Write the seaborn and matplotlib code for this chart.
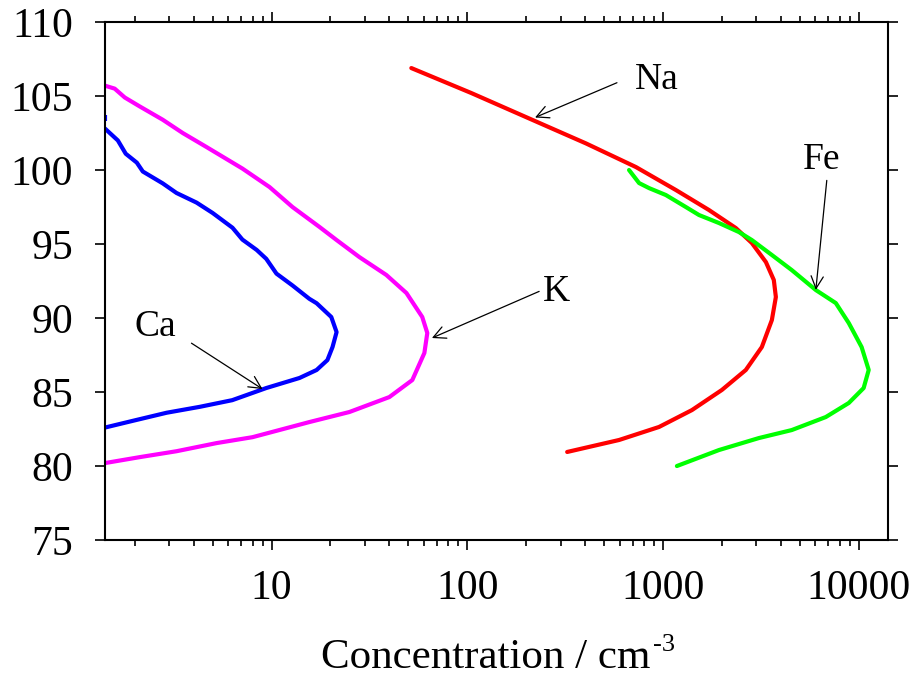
import numpy as np
import pandas as pd
import seaborn as sns
import matplotlib.pyplot as plt
from matplotlib.ticker import LogLocator, FixedLocator, NullFormatter, FixedFormatter

# profiles: concentration (cm^-3) vs altitude (km)
ca_conc = [1.41, 1.64, 1.80, 2.05, 2.20, 2.78, 3.27, 4.14, 5.0, 6.32, 7.1, 8.4, 9.4, 10.6, 12.8,
           15.6, 17.0, 20.2, 21.5, 20.5, 19.3, 17.0, 13.9, 9.4, 6.3, 4.3, 2.91, 1.95, 1.41]
ca_alt = [102.8, 102.0, 101.1, 100.5, 99.9, 99.1, 98.45, 97.8, 97.1, 96.1, 95.3, 94.6, 94.0, 93.0, 92.2,
          91.3, 91.0, 90.07, 89.05, 88.04, 87.16, 86.49, 85.95, 85.27, 84.45, 84.0, 83.6, 83.05, 82.6]

k_conc = [1.41, 1.58, 1.78, 2.12, 2.78, 3.52, 4.66, 7.1, 9.77, 12.8, 17.6, 21.5, 28.1, 38.6, 48.9, 58.9,
          62.5, 60.4, 52.4, 40.0, 25.0, 15.6, 8.0, 5.24, 3.27, 2.12, 1.41]
k_alt = [105.7, 105.5, 104.9, 104.3, 103.4, 102.5, 101.55, 100.1, 98.85, 97.5, 96.15, 95.27, 94.12, 92.91, 91.69, 90.07,
         88.99, 87.64, 85.81, 84.66, 83.65, 82.97, 81.95, 81.55, 81.0, 80.6, 80.2]

na_conc = [51.8, 105, 247, 404, 728, 1164, 1717, 2357, 2845, 3357, 3684, 3774, 3600, 3200, 2650, 2000,
           1406, 955, 597, 324]
na_alt = [106.89, 105.2, 103.04, 101.8, 100.2, 98.65, 97.30, 96.08, 95.07, 93.78, 92.57, 91.42, 89.86, 88.04, 86.49, 85.14,
          83.78, 82.64, 81.76, 80.95]

fe_conc = [671, 755, 849, 1035, 1309, 1528, 1932, 2444, 2845, 3600, 4550, 6040, 7640, 8900, 10350, 11250,
           10600, 8900, 6790, 4550, 3090, 1932, 1178]
fe_alt = [100.0, 99.12, 98.78, 98.31, 97.50, 96.96, 96.42, 95.81, 95.27, 94.26, 93.24, 91.89, 91.01, 89.66, 88.04, 86.49,
          85.27, 84.26, 83.31, 82.43, 81.89, 81.08, 80.0]

# short blue stub at the left edge above the Ca profile
ca_stub_conc = [1.41, 1.41]
ca_stub_alt = [103.3, 103.7]

species = ["Ca", "K", "Na", "Fe"]
colors = {"Ca": "#0000ff", "K": "#ff00ff", "Na": "#ff0000", "Fe": "#00ff00"}

# label position, arrow tail, arrow head
labels = {
    "Na": ((931, 106.1), (582, 105.9), (222, 103.55)),
    "Fe": ((6470, 100.7), (6870, 99.3), (6040, 91.9)),
    "K": ((285, 91.8), (233, 91.8), (66, 88.65)),
    "Ca": ((2.55, 89.4), (3.9, 88.3), (9.0, 85.2)),
}

frames = []
for name, c, a in [("Ca", ca_conc, ca_alt), ("K", k_conc, k_alt), ("Na", na_conc, na_alt), ("Fe", fe_conc, fe_alt)]:
    frames.append(pd.DataFrame({"conc": c, "alt": a, "species": name}))
df = pd.concat(frames, ignore_index=True)

sns.set_style("ticks")
plt.rcParams['font.family'] = ['Liberation Serif', 'DejaVu Serif']
plt.rcParams['text.color'] = 'black'

fig = plt.figure(figsize=(9.17, 6.78), dpi=100)
ax = fig.add_axes([0.1145, 0.2035, 0.8535, 0.764])

sns.lineplot(data=df, x="conc", y="alt", hue="species", palette=colors, sort=False,
             estimator=None, lw=3, legend=False, ax=ax)
for line in ax.get_lines():
    line.set_solid_joinstyle("round")
    line.set_solid_capstyle("round")
ax.plot(ca_stub_conc, ca_stub_alt, color=colors["Ca"], lw=3, solid_capstyle="butt")

ax.set_xscale("log")
ax.set_xlim(1.41, 14060)
ax.set_ylim(75, 110)

ax.xaxis.set_major_locator(FixedLocator([10, 100, 1000, 10000]))
ax.xaxis.set_major_formatter(FixedFormatter(["10", "100", "1000", "10000"]))
ax.xaxis.set_minor_locator(LogLocator(base=10, subs=np.arange(2, 10)))
ax.xaxis.set_minor_formatter(NullFormatter())
ax.set_yticks(np.arange(75, 111, 5))

ax.tick_params(which="both", direction="out", top=True, right=True, labelright=False,
               labeltop=False, width=1.2, color="black", labelsize=30, labelcolor="black")
ax.tick_params(which="major", length=7)
ax.tick_params(which="minor", length=4.5)
ax.tick_params(axis="x", pad=14)
ax.tick_params(axis="y", pad=16)
for s in ax.spines.values():
    s.set_visible(True)
    s.set_linewidth(1.5)
    s.set_color("black")

ax.set_xlabel("Concentration / cm", fontsize=31, labelpad=22, color="black")
ax.xaxis.label.set_x(0.5 - 11 / 783)
ax.set_ylabel("")

for name in species:
    txt, tail, head = labels[name]
    ax.text(txt[0], txt[1], name, fontsize=27, ha="center", va="center")
    ax.annotate("", xy=head, xytext=tail,
                arrowprops=dict(arrowstyle="->", color="black", lw=0.9,
                                shrinkA=0, shrinkB=0, mutation_scale=22))

# superscript "-3" written with a plain hyphen, placed after the axis label
fig.canvas.draw()
bb = ax.xaxis.label.get_window_extent()
fig.text((bb.x1 + 3) / fig.bbox.width, (bb.y1 - 13) / fig.bbox.height, "-3",
         fontsize=19, ha="left", va="baseline")

fig.savefig("out.png", dpi=100)
